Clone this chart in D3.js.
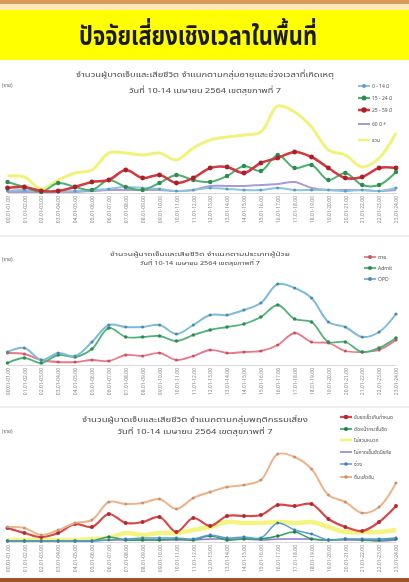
<!DOCTYPE html>
<html><head><meta charset="utf-8">
<script src="https://cdn.jsdelivr.net/npm/d3@7"></script>
<style>
html,body{margin:0;padding:0;background:#fff;}
svg{display:block;filter:blur(0.35px);}
</style></head>
<body>
<svg id="c" width="409" height="582"></svg>
<script>
// ---------- data ----------
const hours = ["00.01-01.00","01.01-02.00","02.01-03.00","03.01-04.00","04.01-05.00","05.01-06.00",
  "06.01-07.00","07.01-08.00","08.01-09.00","09.01-10.00","10.01-11.00","11.01-12.00",
  "12.01-13.00","13.01-14.00","14.01-15.00","15.01-16.00","16.01-17.00","17.01-18.00",
  "18.01-19.00","19.01-20.00","20.01-21.00","21.01-22.00","22.01-23.00","23.01-24.00"];

// chart 1: by age group
const age0_14   = [2,3,1,1,2,3,4,6,5,4,2,3,5,4,3,3,5,3,3,3,2,3,2,5];
const age15_24  = [11,6,1,10,6,3,13,6,3,10,18,13,11,17,27,22,38,25,28,13,20,8,8,21];
const age25_59  = [5,6,2,2,6,11,13,23,15,18,10,15,25,26,20,30,35,41,36,25,15,16,25,25];
const age60up   = [1,1,1,1,1,2,3,3,3,3,2,3,7,7,7,8,9,11,5,3,3,3,2,3];
const ageTotal  = [17,16,4,13,20,23,40,40,38,40,33,45,53,56,58,61,87,81,66,43,38,26,35,60];
const ageNames  = ["0 - 14 ปี","15 - 24 ปี","25 - 59 ปี","60 ปี +","รวม"];

// chart 2: by patient type
const typeDead  = [12,11,5,3,3,5,4,10,9,12,5,9,15,12,13,14,20,32,23,22,14,13,15,25];
const typeAdmit = [2,7,2,10,8,16,37,28,28,29,24,30,35,38,41,48,60,46,43,23,23,13,17,27];
const typeOPD   = [13,17,5,12,9,23,40,38,38,40,31,40,50,50,55,62,81,77,67,43,38,28,33,51];
const typeNames = ["ตาย","Admit","OPD"];

// chart 3: by risk behaviour
const rkSpeed   = [14,9,5,9,18,15,28,19,20,25,10,24,16,26,26,27,37,36,38,23,15,11,20,36];
const rkCut     = [1,1,1,1,1,1,5,2,2,2,3,2,6,2,3,3,6,10,3,2,3,2,2,3];
const rkHelmet  = [2,2,2,2,2,3,4,9,7,9,9,12,15,20,19,19,20,19,20,15,10,10,10,12];
const rkBelt    = [1,1,1,1,1,1,2,2,2,2,2,2,3,3,3,2,3,3,3,2,2,2,1,2];
const rkSleepy  = [1,1,1,1,1,1,2,3,4,4,4,3,7,4,5,4,19,12,8,2,3,3,3,4];
const rkDrunk   = [15,14,7,12,19,22,40,38,39,43,33,44,50,55,57,62,88,85,73,47,40,29,35,59];
const rkNames   = ["ขับรถเร็วเกินกำหนด","ตัดหน้ากระชั้นชิด","ไม่สวมหมวก","ไม่คาดเข็มขัดนิรภัย","ง่วง","ดื่มแล้วขับ"];

// ---------- drawing ----------
const svg = d3.select("#c");
const FONT = "'Noto Sans Thai','Noto Sans','DejaVu Sans',sans-serif";

// header
svg.append("rect").attr("x",0).attr("y",0).attr("width",409).attr("height",4).attr("fill","#d99a5a");
svg.append("rect").attr("x",0).attr("y",4).attr("width",409).attr("height",6).attr("fill","#fbe9b8");
svg.append("rect").attr("x",0).attr("y",10).attr("width",409).attr("height",50).attr("fill","#ffff00");
svg.append("text").attr("x",198).attr("y",45).attr("text-anchor","middle")
  .attr("font-family",FONT).attr("font-weight","bold").attr("font-size",26).attr("fill","#1a1a1a")
  .attr("textLength",238).attr("lengthAdjust","spacingAndGlyphs")
  .text("ปัจจัยเสี่ยงเชิงเวลาในพื้นที่");
// bottom band
svg.append("rect").attr("x",0).attr("y",578).attr("width",409).attr("height",4).attr("fill","#a0522d");

const x = d3.scalePoint().domain(hours).range([7.5,396]);

function drawChart(cfg){
  const g = svg.append("g");
  const y = d3.scaleLinear().domain([0,cfg.max]).range([cfg.base, cfg.base-cfg.h]);
  g.append("text").attr("x",2).attr("y",cfg.unitY).attr("font-family",FONT).attr("font-size",5)
    .attr("fill","#666").text("(ราย)");
  cfg.titles.forEach((t,i)=>{
    g.append("text").attr("x",cfg.titleX).attr("y",cfg.titleY[i]).attr("text-anchor","middle")
      .attr("font-family",FONT).attr("font-size",cfg.titleSize).attr("fill","#4a4a4a")
      .attr("textLength",cfg.titleLen[i]).attr("lengthAdjust","spacingAndGlyphs").text(t);
  });
  const ax = g.append("g").attr("transform",`translate(0,${cfg.base})`)
    .call(d3.axisBottom(x).tickSize(0).tickPadding(3));
  ax.select(".domain").attr("stroke","#d8d8d8");
  ax.selectAll("text").attr("font-family",FONT).attr("font-size",5).attr("fill","#888")
    .attr("text-anchor","end").attr("transform","rotate(-90)").attr("dx","-3").attr("dy","1.7").attr("x",0).attr("y",0);
  cfg.series.forEach(s=>{
    const line = d3.line().x((d,i)=>x(hours[i])).y(d=>y(d)).curve(d3.curveCatmullRom.alpha(0.5));
    g.append("path").datum(s.values).attr("fill","none").attr("stroke",s.color)
      .attr("stroke-width",s.w).attr("stroke-opacity",s.op||1).attr("d",line);
    if(s.dot){
      g.selectAll(null).data(s.values).enter().append("circle")
        .attr("cx",(d,i)=>x(hours[i])).attr("cy",d=>y(d)).attr("r",s.dot).attr("fill",s.dotColor||s.color);
    }
  });
  // legend (in its own order)
  cfg.legOrder.forEach((k,i)=>{
    const s = cfg.series[k];
    const ly = cfg.legY[i];
    g.append("line").attr("x1",cfg.legX).attr("x2",cfg.legX+12).attr("y1",ly).attr("y2",ly)
      .attr("stroke",s.color).attr("stroke-width",Math.min(s.w,2.5)).attr("stroke-opacity",s.op||1);
    if(s.dot) g.append("circle").attr("cx",cfg.legX+6).attr("cy",ly).attr("r",s.dot+0.3).attr("fill",s.dotColor||s.color);
    g.append("text").attr("x",cfg.legX+14).attr("y",ly+1.8).attr("font-family",FONT)
      .attr("font-size",cfg.legSize).attr("fill","#555").text(s.name);
  });
  if(cfg.sepY) svg.append("line").attr("x1",0).attr("x2",409).attr("y1",cfg.sepY).attr("y2",cfg.sepY)
    .attr("stroke","#e0e0e0").attr("stroke-width",1);
}

// chart 1
drawChart({
  base:193, h:110, max:110, unitY:87, titleX:205, titleY:[77,93], titleSize:7.5, titleLen:[258,152],
  titles:["จำนวนผู้บาดเจ็บและเสียชีวิต  จำแนกตามกลุ่มอายุและช่วงเวลาที่เกิดเหตุ","วันที่ 10-14 เมษายน 2564 เขตสุขภาพที่ 7"],
  legX:358, legY:[86,98,110,124,140], legSize:5, sepY:236, legOrder:[2,3,4,1,0],
  series:[
    {name:ageNames[4],values:ageTotal,color:"#f2f27a",w:3},
    {name:ageNames[3],values:age60up,color:"#a89ad8",w:2},
    {name:ageNames[0],values:age0_14,color:"#8cc4de",w:2,dot:1.6,dotColor:"#5a9cc0"},
    {name:ageNames[1],values:age15_24,color:"#4bb070",w:2,dot:2.2,dotColor:"#2f8a50"},
    {name:ageNames[2],values:age25_59,color:"#d03a40",w:2.6,dot:2.4,dotColor:"#a82028"}
  ]
});

// chart 2
drawChart({
  base:365, h:90, max:90, unitY:261, titleX:200, titleY:[256,265], titleSize:6, titleLen:[180,120],
  titles:["จำนวนผู้บาดเจ็บและเสียชีวิต  จำแนกตามประเภทผู้ป่วย","วันที่ 10-14 เมษายน 2564 เขตสุขภาพที่ 7"],
  legX:364, legY:[257,268,279], legSize:5, sepY:407, legOrder:[0,1,2],
  series:[
    {name:typeNames[0],values:typeDead,color:"#e8798a",w:1.8,dot:1.6,dotColor:"#c85060"},
    {name:typeNames[1],values:typeAdmit,color:"#52b07a",w:1.8,dot:1.8,dotColor:"#2f8a55"},
    {name:typeNames[2],values:typeOPD,color:"#7cbcd8",w:2,dot:1.6,dotColor:"#4a8aa8"}
  ]
});

// chart 3
drawChart({
  base:542, h:95, max:95, unitY:433, titleX:195, titleY:[422,434], titleSize:7, titleLen:[226,155],
  titles:["จำนวนผู้บาดเจ็บและเสียชีวิต  จำแนกตามกลุ่มพฤติกรรมเสี่ยง","วันที่ 10-14 เมษายน 2564 เขตสุขภาพที่ 7"],
  legX:340, legY:[417,429,440,452,464,477], legSize:5, sepY:null, legOrder:[2,3,0,1,4,5],
  series:[
    {name:rkNames[2],values:rkHelmet,color:"#f0f04a",w:4.5,op:0.7},
    {name:rkNames[3],values:rkBelt,color:"#8a78cc",w:1.5},
    {name:rkNames[0],values:rkSpeed,color:"#d84848",w:2.2,dot:2,dotColor:"#b02a30"},
    {name:rkNames[1],values:rkCut,color:"#32a060",w:1.6,dot:1.8,dotColor:"#1e8048"},
    {name:rkNames[4],values:rkSleepy,color:"#5c9ad0",w:1.5,dot:1.4,dotColor:"#3a78b0"},
    {name:rkNames[5],values:rkDrunk,color:"#ecb488",w:2,dot:1.5,dotColor:"#c89070"}
  ]
});
</script>
</body></html>
